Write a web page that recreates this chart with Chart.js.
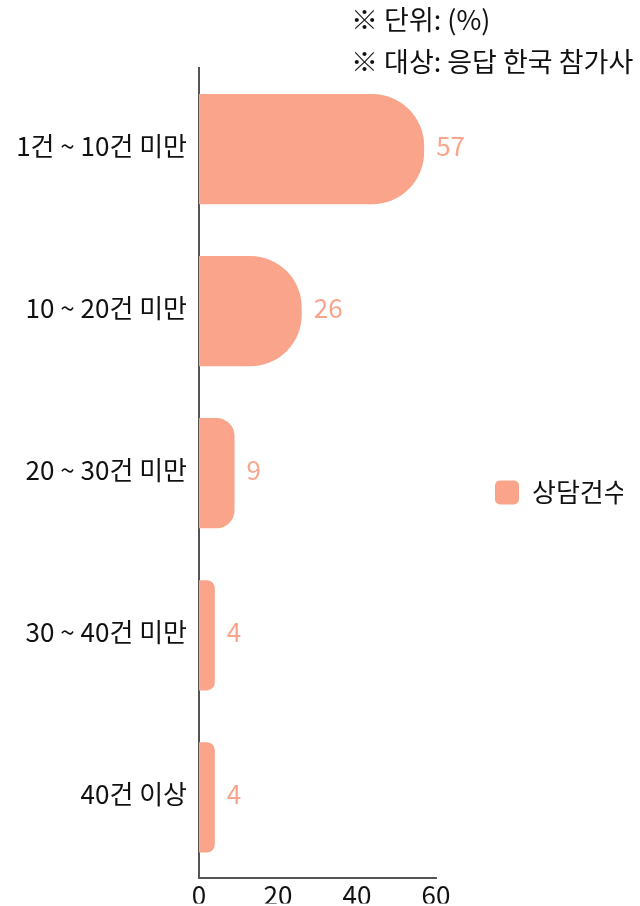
<!DOCTYPE html>
<html><head><meta charset="utf-8">
<script src="https://cdn.jsdelivr.net/npm/chart.js@4"></script>
<style>html,body{margin:0;padding:0;background:#fff}#wrap{width:640px;height:906px}</style>
</head><body><div id="wrap"><canvas id="c"></canvas></div>
<script>
const categories = ["1건 ~ 10건 미만","10 ~ 20건 미만","20 ~ 30건 미만","30 ~ 40건 미만","40건 이상"];
const values = [57,26,9,4,4];
const seriesName = "상담건수";
const xTicks = [0,20,40,60];
const notes = ["※ 단위: (%)","※ 대상: 응답 한국 참가사"];
const FONT = "'Noto Sans CJK KR','Noto Sans',sans-serif";
const BAR = "rgb(250,165,139)";

const labelsPlugin = {
  id:'vals',
  afterDatasetsDraw(chart){
    const ctx = chart.ctx; const meta = chart.getDatasetMeta(0);
    ctx.save(); ctx.font = "26px "+FONT; ctx.fillStyle = BAR; ctx.textBaseline='middle'; ctx.textAlign='left';
    meta.data.forEach((el,i)=>{ ctx.fillText(String(values[i]), el.x+12, el.y-3); });
    ctx.restore();
  }
};
const notesPlugin = {
  id:'notes',
  afterDraw(chart){
    const ctx = chart.ctx; ctx.save(); ctx.font = "27px "+FONT; ctx.fillStyle='#111'; ctx.textBaseline='middle'; ctx.textAlign='left';
    notes.forEach((t,i)=>ctx.fillText(t, 351, 20+i*42));
    ctx.restore();
  }
};
const legendWidthPlugin = {
  id:'legendWidth',
  beforeUpdate(chart){
    const lg = chart.legend;
    if (lg && !lg._wPatched){
      const f = lg.fit;
      lg.fit = function(){ f.call(this); this.width = 187; };
      lg._wPatched = true;
    }
  }
};

function draw(){
new Chart(document.getElementById('c'), {
  type:'bar',
  data:{labels:categories, datasets:[{label:seriesName, data:values, backgroundColor:BAR, borderRadius:52, borderSkipped:'start', barPercentage:0.68, categoryPercentage:1}]},
  options:{
    indexAxis:'y', responsive:true, maintainAspectRatio:false, animation:false,
    layout:{padding:{top:68, right:17, left:0, bottom:0}},
    plugins:{
      legend:{position:'right', title:{display:true, text:'', font:{size:10,lineHeight:1}, padding:{top:1,bottom:0}},
        labels:{font:{family:FONT,size:26}, color:'#111', boxWidth:24, boxHeight:24, padding:59, useBorderRadius:true, borderRadius:5}},
      tooltip:{enabled:false}
    },
    scales:{
      x:{min:0,max:60, afterBuildTicks(ax){ax.ticks = xTicks.map(v=>({value:v}));},
         afterFit(s){s.height=25;},
         grid:{display:false, drawTicks:false}, border:{display:true,color:'#555',width:2},
         ticks:{font:{family:FONT,size:26}, color:'#111', padding:1}},
      y:{afterFit(s){s.width=199;},
         grid:{display:false, drawTicks:false}, border:{display:true,color:'#555',width:2},
         ticks:{font:{family:FONT,size:26}, color:'#111', padding:12, labelOffset:-3}}
    }
  },
  plugins:[labelsPlugin, notesPlugin, legendWidthPlugin]
});
}
if (document.fonts && document.fonts.load) {
  Promise.all([document.fonts.load("26px 'Noto Sans CJK KR'","건0")]).then(draw, draw);
} else draw();
</script></body></html>
